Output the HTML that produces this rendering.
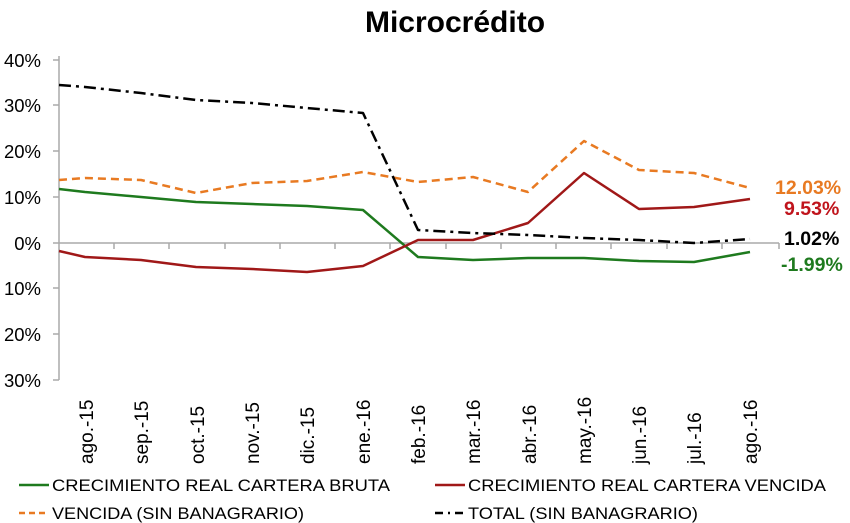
<!DOCTYPE html>
<html><head><meta charset="utf-8"><style>html,body{margin:0;padding:0;background:#fff}svg{display:block}</style></head>
<body>
<svg width="850" height="523" xmlns="http://www.w3.org/2000/svg" font-family="Liberation Sans, Arial, sans-serif">
<text x="455" y="32" font-size="30" font-weight="bold" text-anchor="middle">Microcrédito</text>
<g font-size="18.5" text-anchor="end" fill="#000">
<text x="41" y="67">40%</text><text x="41" y="112">30%</text><text x="41" y="158">20%</text><text x="41" y="204">10%</text><text x="41" y="250">0%</text><text x="41" y="295">10%</text><text x="41" y="341">20%</text><text x="41" y="387">30%</text>
</g>
<g stroke="#aaa" stroke-width="1.5" fill="none">
<line x1="59" y1="56" x2="59" y2="380"/>
<line x1="59" y1="243" x2="779" y2="243"/>
<path d="M53 60H59M53 105H59M53 151H59M53 197H59M53 243H59M53 288H59M53 334H59M53 380H59"/>
<path d="M114 243v6M169 243v6M225 243v6M280 243v6M335 243v6M390 243v6M446 243v6M501 243v6M556 243v6M611 243v6M667 243v6M722 243v6M779 243v6"/>
</g>
<g font-size="19" fill="#000">
<text transform="translate(93,464) rotate(-90)">ago.-15</text>
<text transform="translate(148,464) rotate(-90)">sep.-15</text>
<text transform="translate(204,464) rotate(-90)">oct.-15</text>
<text transform="translate(259,464) rotate(-90)">nov.-15</text>
<text transform="translate(314,464) rotate(-90)">dic.-15</text>
<text transform="translate(370,464) rotate(-90)">ene.-16</text>
<text transform="translate(425,464) rotate(-90)">feb.-16</text>
<text transform="translate(480,464) rotate(-90)">mar.-16</text>
<text transform="translate(536,464) rotate(-90)">abr.-16</text>
<text transform="translate(591,464) rotate(-90)">may.-16</text>
<text transform="translate(646,464) rotate(-90)">jun.-16</text>
<text transform="translate(701,464) rotate(-90)">jul.-16</text>
<text transform="translate(757,464) rotate(-90)">ago.-16</text>
</g>
<g fill="none" stroke-width="2.5" stroke-linejoin="round">
<polyline stroke="#1e7a1e" points="59,189 85,192 141,197 196,202 252,204 307,206 363,210 418,257 473,260 528,258 584,258 639,261 694,262 750,252"/>
<polyline stroke="#a01818" points="59,251 85,257 141,260 196,267 252,269 307,272 363,266 418,240 473,240 528,223 584,173 639,209 694,207 750,199"/>
<polyline stroke="#e87a22" stroke-dasharray="8,5" points="59,180 85,178 141,180 196,193 252,183 307,181 363,172 418,182 473,177 528,192 584,141 639,170 694,173 750,188"/>
<polyline stroke="#000" stroke-dasharray="12,5,3,5" points="59,85 85,87 141,93 196,100 252,103 307,108 363,113 418,230 473,233 528,235 584,238 639,240 694,243 750,239"/>
</g>
<g font-size="19.5" font-weight="bold">
<text x="775" y="194" fill="#e87a22">12.03%</text>
<text x="784" y="215" fill="#c0141c">9.53%</text>
<text x="784" y="245" fill="#000">1.02%</text>
<text x="781" y="271" fill="#1e7a1e">-1.99%</text>
</g>
<g stroke-width="2.5">
<line x1="19" y1="485" x2="49" y2="485" stroke="#1e7a1e"/>
<line x1="435" y1="485" x2="465" y2="485" stroke="#a01818"/>
<line x1="19" y1="513" x2="49" y2="513" stroke="#e87a22" stroke-dasharray="6,4"/>
<line x1="435" y1="513" x2="465" y2="513" stroke="#000" stroke-dasharray="8,5,2,5"/>
</g>
<g font-size="16.5" fill="#000">
<text x="52" y="491" textLength="338" lengthAdjust="spacingAndGlyphs">CRECIMIENTO REAL CARTERA BRUTA</text>
<text x="468" y="491" textLength="358" lengthAdjust="spacingAndGlyphs">CRECIMIENTO REAL CARTERA VENCIDA</text>
<text x="52" y="519" textLength="252" lengthAdjust="spacingAndGlyphs">VENCIDA (SIN BANAGRARIO)</text>
<text x="468" y="519" textLength="230" lengthAdjust="spacingAndGlyphs">TOTAL (SIN BANAGRARIO)</text>
</g>
</svg>
</body></html>
